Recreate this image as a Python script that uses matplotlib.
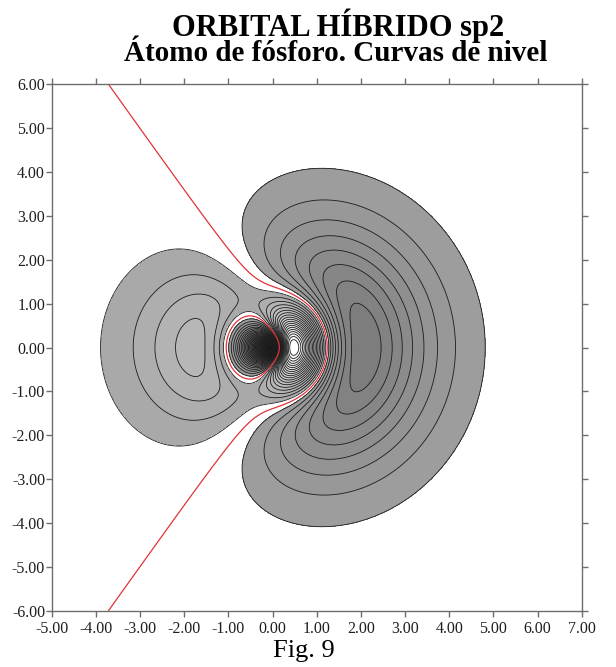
import numpy as np
import matplotlib
matplotlib.use("Agg")
import matplotlib.pyplot as plt

# ---------------- data ----------------
title_line1 = "ORBITAL HÍBRIDO sp2"
title_line2 = "Átomo de fósforo. Curvas de nivel"
caption = "Fig. 9"
x_ticks = [-5, -4, -3, -2, -1, 0, 1, 2, 3, 4, 5, 6, 7]
y_ticks = [-6, -5, -4, -3, -2, -1, 0, 1, 2, 3, 4, 5, 6]
x_tick_labels = ["-5.00", "-4.00", "-3.00", "-2.00", "-1.00", "0.00", "1.00",
                 "2.00", "3.00", "4.00", "5.00", "6.00", "7.00"]
y_tick_labels = ["-6.00", "-5.00", "-4.00", "-3.00", "-2.00", "-1.00", "0.00",
                 "1.00", "2.00", "3.00", "4.00", "5.00", "6.00"]
x_range = [-5.0, 7.0]
y_range = [-6.0, 6.0]
nucleus = [0.0, 0.0]          # position of the P nucleus
z_eff = 5.1                   # effective nuclear charge (hydrogen-like 3s / 3p)
coef_s = 1.0 / np.sqrt(3.0)   # sp2 hybrid: s share
coef_p = np.sqrt(2.0 / 3.0)   # sp2 hybrid: p share
first_level = 0.44            # outermost contour |psi|
level_step = 0.52
n_neg_levels = 19             # negative contours: -0.44 ... -9.80
n_pos_levels = 34             # positive contours: 0.44 ... 17.60
shade_low = -10.4             # value drawn white
shade_high = 18.5             # value drawn black

# ---------------- field ----------------
xs = np.linspace(x_range[0], x_range[1], 1201)
ys = np.linspace(y_range[0], y_range[1], 1201)
X, Y = np.meshgrid(xs, ys)
dx = X - nucleus[0]
dy = Y - nucleus[1]
r = np.hypot(dx, dy)
u = z_eff * r
cos_t = np.where(r > 0, dx / np.where(r > 0, r, 1.0), 0.0)
rad_3s = (2.0 / np.sqrt(3.0)) * (27.0 - 18.0 * u + 2.0 * u ** 2) * np.exp(-u / 3.0)
rad_3p = 2.0 * np.sqrt(2.0) * (6.0 * u - u ** 2) * np.exp(-u / 3.0)
psi = coef_s * rad_3s - coef_p * rad_3p * cos_t

# ---------------- levels ----------------
neg_levels = [-(first_level + k * level_step) for k in range(n_neg_levels)][::-1]
pos_levels = [first_level + k * level_step for k in range(n_pos_levels)]
line_levels = neg_levels + pos_levels
fill_levels = line_levels + [pos_levels[-1] + level_step]

band_colors = []
for lo, hi in zip(fill_levels[:-1], fill_levels[1:]):
    mid = 0.5 * (lo + hi)
    if lo < 0 < hi:
        band_colors.append((1, 1, 1))
    else:
        g = 1.0 - (mid - shade_low) / (shade_high - shade_low)
        g = min(max(g, 0.0), 1.0)
        band_colors.append((g, g, g))

# ---------------- figure ----------------
plt.rcParams["font.family"] = ["Liberation Serif", "DejaVu Serif"]
fig = plt.figure(figsize=(6.16, 6.67), dpi=100)
ax = fig.add_axes([51.7 / 616, 56 / 667, 530 / 616, 527 / 667])

ax.contourf(X, Y, psi, levels=fill_levels, colors=band_colors)
ax.contour(X, Y, psi, levels=line_levels, colors="#1c1c1c", linewidths=0.6,
           linestyles="solid")
ax.contour(X, Y, psi, levels=[0.0], colors="#e0343a", linewidths=0.9,
           linestyles="solid")

ax.set_xlim(x_range)
ax.set_ylim(y_range)
ax.set_xticks(x_ticks)
ax.set_xticklabels(x_tick_labels)
ax.set_yticks(y_ticks)
ax.set_yticklabels(y_tick_labels)
for sp in ax.spines.values():
    sp.set_color("#6e6e6e")
    sp.set_linewidth(1.0)
ax.tick_params(axis="both", direction="out", length=4.3, width=1.0,
               color="#6e6e6e", labelsize=11.5, labelcolor="#1e1e1e",
               top=True, right=True)
ax.tick_params(axis="x", pad=2.8)
ax.tick_params(axis="y", pad=0.5)

fig.text(338.5 / 616, 1 - 36 / 667, title_line1, ha="center", va="baseline",
         fontsize=22, fontweight="bold")
fig.text(336 / 616, 1 - 61 / 667, title_line2, ha="center", va="baseline",
         fontsize=21, fontweight="bold")
fig.text(304 / 616, 1 - 657 / 667, caption, ha="center", va="baseline",
         fontsize=19)

fig.savefig("out.png", dpi=100)
